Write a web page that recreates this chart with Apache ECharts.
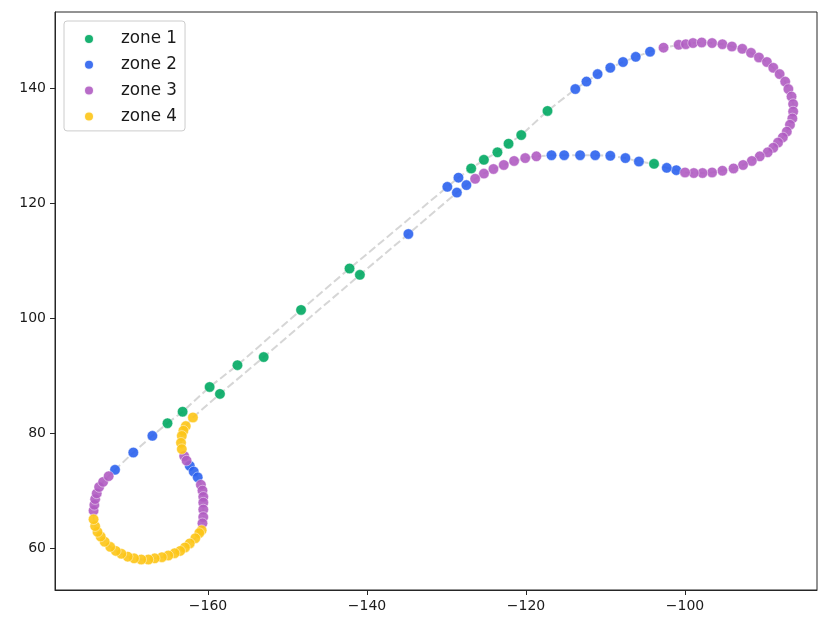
<!DOCTYPE html>
<html>
<head>
<meta charset="utf-8">
<script src="https://cdn.jsdelivr.net/npm/echarts@6/dist/echarts.min.js"></script>
<style>
  html, body { margin: 0; padding: 0; background: #fff; }
  #chart { width: 818px; height: 619px; }
</style>
</head>
<body>
<div id="chart"></div>
<script>
// Track positions in travel order (the path closes on itself)
const xs = [
  -165.1, -163.2, -159.8, -156.3, -148.3, -142.2, -129.9, -128.5, -126.9, -125.3,
  -123.6, -122.2, -120.6, -117.3, -113.8, -112.4, -111.0, -109.4, -107.8, -106.2,
  -104.4, -102.7, -100.8, -99.9, -99.0, -97.9, -96.6, -95.3, -94.1, -92.8,
  -91.7, -90.7, -89.7, -88.9, -88.1, -87.4, -87.0, -86.6, -86.4, -86.4,
  -86.5, -86.8, -87.2, -87.7, -88.3, -88.9, -89.6, -90.6, -91.6, -92.7,
  -93.9, -95.3, -96.6, -97.8, -98.9, -100.0, -101.1, -102.3, -103.9, -105.8,
  -107.5, -109.4, -111.3, -113.2, -115.2, -116.8, -118.7, -120.1, -121.5, -122.8,
  -124.1, -125.3, -126.4, -127.5, -128.7, -134.8, -140.9, -153.0, -158.5, -161.9,
  -162.8, -163.1, -163.3, -163.4, -163.3, -163.0, -162.7, -162.3, -161.8, -161.3,
  -160.9, -160.7, -160.6, -160.6, -160.6, -160.6, -160.7, -160.8, -161.1, -161.6,
  -162.3, -162.9, -163.5, -164.2, -165.0, -165.8, -166.7, -167.5, -168.4, -169.3,
  -170.1, -170.9, -171.6, -172.3, -173.0, -173.5, -173.9, -174.2, -174.4, -174.4,
  -174.3, -174.2, -174.0, -173.7, -173.2, -172.5, -171.7, -169.4, -167.0
];
const ys = [
  81.7, 83.7, 88.0, 91.8, 101.4, 108.6, 122.8, 124.4, 126.0, 127.5,
  128.8, 130.3, 131.8, 136.0, 139.8, 141.1, 142.4, 143.5, 144.5, 145.4,
  146.3, 147.0, 147.5, 147.6, 147.8, 147.9, 147.8, 147.6, 147.2, 146.8,
  146.1, 145.3, 144.5, 143.5, 142.4, 141.1, 139.8, 138.5, 137.2, 135.9,
  134.7, 133.6, 132.4, 131.4, 130.5, 129.6, 128.8, 128.1, 127.3, 126.6,
  126.0, 125.6, 125.3, 125.2, 125.2, 125.3, 125.7, 126.1, 126.8, 127.2,
  127.8, 128.2, 128.3, 128.3, 128.3, 128.3, 128.1, 127.8, 127.3, 126.6,
  125.9, 125.1, 124.2, 123.1, 121.8, 114.6, 107.5, 93.2, 86.8, 82.7,
  81.2, 80.4, 79.5, 78.3, 77.2, 76.0, 75.2, 74.3, 73.3, 72.3,
  71.0, 70.0, 68.9, 67.9, 66.7, 65.4, 64.3, 63.1, 62.6, 61.7,
  60.8, 60.1, 59.5, 59.1, 58.7, 58.4, 58.2, 58.0, 58.0, 58.2,
  58.5, 59.0, 59.5, 60.2, 61.1, 62.0, 62.8, 63.8, 65.0, 66.5,
  67.5, 68.5, 69.5, 70.6, 71.5, 72.5, 73.6, 76.6, 79.5
];
const zones = [
  1, 1, 1, 1, 1, 1, 2, 2, 1, 1,
  1, 1, 1, 1, 2, 2, 2, 2, 2, 2,
  2, 3, 3, 3, 3, 3, 3, 3, 3, 3,
  3, 3, 3, 3, 3, 3, 3, 3, 3, 3,
  3, 3, 3, 3, 3, 3, 3, 3, 3, 3,
  3, 3, 3, 3, 3, 3, 2, 2, 1, 2,
  2, 2, 2, 2, 2, 2, 3, 3, 3, 3,
  3, 3, 3, 2, 2, 2, 1, 1, 1, 4,
  4, 4, 4, 4, 4, 3, 3, 2, 2, 2,
  3, 3, 3, 3, 3, 3, 3, 4, 4, 4,
  4, 4, 4, 4, 4, 4, 4, 4, 4, 4,
  4, 4, 4, 4, 4, 4, 4, 4, 4, 3,
  3, 3, 3, 3, 3, 3, 2, 2, 2
];
const zoneNames = ['zone 1', 'zone 2', 'zone 3', 'zone 4'];
const zoneColors = ['#00a862', '#2b62ee', '#b05cc2', '#fdc517'];
const xTicks = [-160, -140, -120, -100];
const yTicks = [60, 80, 100, 120, 140];

const FONT = 'DejaVu Sans';
const fmt = v => (v < 0 ? '\u2212' + Math.abs(v) : String(v));

// Closed path for the dashed guide line
const pathData = xs.map((x, i) => [x, ys[i]]);
pathData.push(pathData[0]);

const zoneSeries = zoneNames.map((name, z) => ({
  name,
  type: 'scatter',
  symbol: 'circle',
  symbolSize: 10.5,
  z: 3,
  itemStyle: { color: zoneColors[z], opacity: 0.9, borderColor: '#ffffff', borderWidth: 0.5 },
  data: xs.map((x, i) => [x, ys[i], zones[i]]).filter(p => p[2] === z + 1).map(p => [p[0], p[1]])
}));

const chart = echarts.init(document.getElementById('chart'), null, { renderer: 'canvas' });
chart.setOption({
  animation: false,
  backgroundColor: '#ffffff',
  grid: {
    left: 55, right: 1, top: 12, bottom: 29,
    show: true, borderColor: '#262626', borderWidth: 1, backgroundColor: 'transparent'
  },
  legend: {
    orient: 'vertical',
    left: 64, top: 21,
    data: zoneNames,
    icon: 'circle',
    itemWidth: 10, itemHeight: 10,
    itemGap: 8.8,
    padding: [9.5, 8, 6, 19],
    backgroundColor: 'rgba(255,255,255,0.85)',
    borderColor: '#cccccc', borderWidth: 1, borderRadius: 3,
    textStyle: { fontFamily: FONT, fontSize: 16.8, lineHeight: 16, color: '#1a1a1a', padding: [0, 0, 0, 22] }
  },
  xAxis: {
    type: 'value',
    min: -179.25, max: -83.4,
    splitLine: { show: false },
    axisLine: { show: true, onZero: false, lineStyle: { color: '#262626', width: 1 } },
    axisTick: { show: true, length: 5, lineStyle: { color: '#262626' }, customValues: xTicks },
    axisLabel: { customValues: xTicks, formatter: fmt, margin: 9, fontFamily: FONT, fontSize: 14, color: '#1a1a1a' }
  },
  yAxis: {
    type: 'value',
    min: 52.7, max: 153.2,
    splitLine: { show: false },
    axisLine: { show: true, onZero: false, lineStyle: { color: '#262626', width: 1 } },
    axisTick: { show: true, length: 5, lineStyle: { color: '#262626' }, customValues: yTicks },
    axisLabel: { customValues: yTicks, formatter: fmt, margin: 9, fontFamily: FONT, fontSize: 14, color: '#1a1a1a' }
  },
  series: [
    {
      name: 'path',
      type: 'line',
      data: pathData,
      showSymbol: false,
      symbol: 'none',
      silent: true,
      z: 1,
      lineStyle: { color: '#d6d6d6', width: 2, type: [8, 3.5] }
    },
    ...zoneSeries
  ]
});
</script>
</body>
</html>
